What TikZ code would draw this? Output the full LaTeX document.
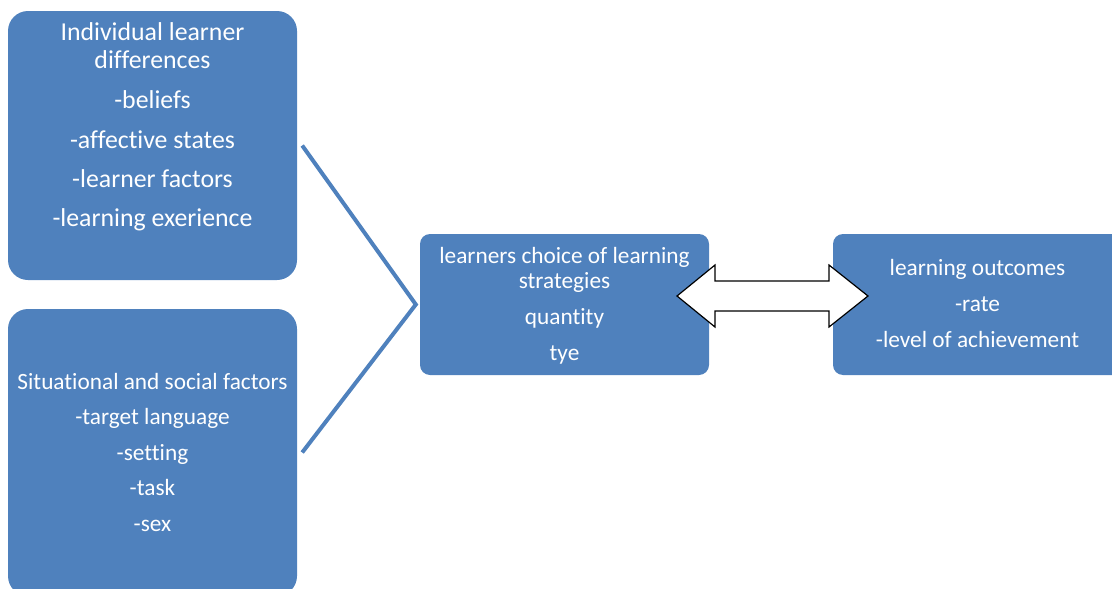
\documentclass[tikz,border=0pt]{standalone}
\usepackage{fontspec}
\setmainfont{Carlito}[Ligatures={NoCommon,NoRare,NoContextual}]
\definecolor{boxblue}{HTML}{4F81BD}
\begin{document}
\begin{tikzpicture}[x=1pt,y=-1pt,
  panel/.style={draw=none, fill=boxblue, rounded corners=#1, inner sep=0pt},
  panel/.default=10pt,
  ln/.style={text=white, anchor=base, inner sep=0pt},
  big/.style={ln, font=\fontsize{25.8}{30}\selectfont},
  small/.style={ln, font=\fontsize{23.3}{28}\selectfont},
  link/.style={draw=boxblue, line width=4pt, line join=miter},
  twoway/.style={draw=black, fill=white, line width=1.2pt, line join=miter}]

\clip (0,0) rectangle (1112,589);

% the four panels
\node[panel=20pt, minimum width=289pt, minimum height=269pt] (ind) at (152.5,145.5) {};
\node[panel=20pt, minimum width=289pt, minimum height=287pt] (sit) at (152.5,452.5) {};
\node[panel, minimum width=289pt, minimum height=141pt] (choice) at (564.5,304.5) {};
\node[panel, minimum width=289pt, minimum height=141pt] (out) at (977.5,304.5) {};

% individual learner differences
\node[big] (i1) at (152.5,40) {Individual learner};
\node[big] (i2) at (152.5,68) {differences};
\node[big] (i3) at (152.5,108) {-beliefs};
\node[big] (i4) at (152.5,148) {-affective states};
\node[big] (i5) at (152.5,187) {-learner factors};
\node[big] (i6) at (152.5,226) {-learning exerience};

% situational and social factors
\node[small] (s1) at (152.5,389) {Situational and social factors};
\node[small] (s2) at (152.5,424) {-target language};
\node[small] (s3) at (152.5,460) {-setting};
\node[small] (s4) at (152.5,495) {-task};
\node[small] (s5) at (152.5,531) {-sex};

% strategy choice
\node[small] (c1) at (564.5,263) {learners choice of learning};
\node[small] (c2) at (564.5,288) {strategies};
\node[small] (c3) at (564.5,324) {quantity};
\node[small] (c4) at (564.5,360) {tye};

% outcomes
\node[small] (o1) at (977.5,275) {learning outcomes};
\node[small] (o2) at (977.5,311) {-rate};
\node[small] (o3) at (977.5,347) {-level of achievement};

% converging lines into the strategy panel
\draw[link] ([xshift=5pt]ind.east) -- ([xshift=-4pt]choice.west) -- ([xshift=5pt]sit.east);

% two-headed block arrow between strategies and outcomes
\draw[twoway] (677,296) -- (715,265) -- (715,281) -- (829,281) -- (829,265)
  -- (868,296) -- (829,327) -- (829,311) -- (715,311) -- (715,327) -- cycle;

\end{tikzpicture}
\end{document}
